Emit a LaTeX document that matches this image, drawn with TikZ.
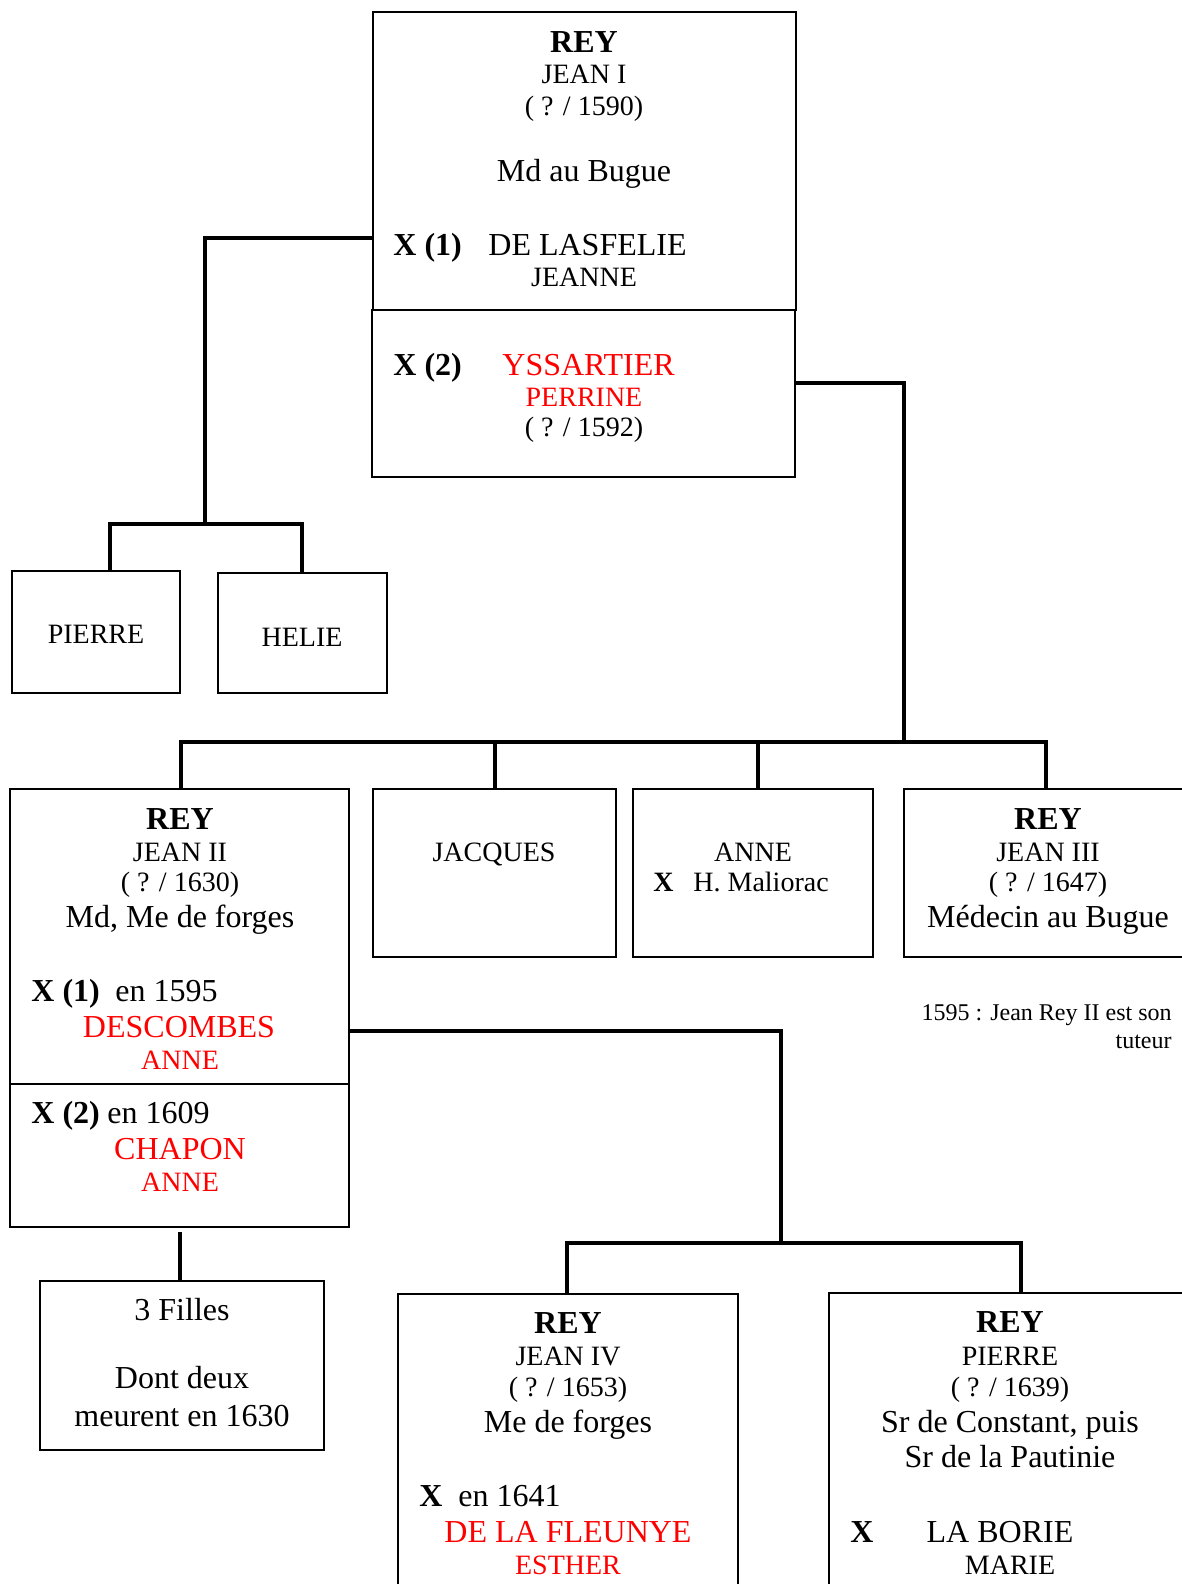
\documentclass[tikz,border=0pt]{standalone}
\usepackage{fontspec}
\setmainfont{Liberation Serif}
\usetikzlibrary{positioning}
\usetikzlibrary{fit}
\tikzset{boite/.style={draw=black, line width=0.6pt, inner sep=0pt},
    lien/.style={line width=2pt},
    txt/.style={inner sep=0pt, anchor=base},
    gros/.style={font=\fontsize{16}{19}\selectfont},
    moyen/.style={font=\fontsize{14}{17}\selectfont},
    petit/.style={font=\fontsize{12}{14}\selectfont},
    nom/.style={font=\bfseries\fontsize{16}{19}\selectfont},
    nomp/.style={font=\bfseries\fontsize{14}{17}\selectfont},
    rouge/.style={text=red}}

\begin{document}
\begin{tikzpicture}[x=0.5pt, y=-0.5pt]
    \useasboundingbox (0,0) rectangle (1182,1584);

    \node[boite, fit={(373,12) (796,310)}] (topA) {};
    \node[boite, fit={(372,310) (795,477)}] (topB) {};
    \node[boite, fit={(12,571) (180,693)}] (pierre1) {};
    \node[boite, fit={(218,573) (387,693)}] (helie) {};
    \node[boite, fit={(10,789) (349,1084)}] (jean2A) {};
    \node[boite, fit={(10,1084) (349,1227)}] (jean2B) {};
    \node[boite, fit={(373,789) (616,957)}] (jacques) {};
    \node[boite, fit={(633,789) (873,957)}] (anne) {};
    \node[boite, fit={(904,789) (1200,957)}] (jean3) {};
    \node[boite, fit={(40,1281) (324,1450)}] (filles) {};
    \node[boite, fit={(398,1294) (738,1610)}] (jean4) {};
    \node[boite, fit={(829,1293) (1200,1610)}] (pierre2) {};

    \coordinate (k1) at (205,238);
    \coordinate (k2) at (205,524);
    \coordinate (b1g) at (110,524);
    \coordinate (b1d) at (302,524);
    \coordinate (k3) at (904,383);
    \coordinate (k4) at (904,742);
    \coordinate (b2g) at (181,742);
    \coordinate (b2d) at (1046,742);
    \coordinate (b2a) at (758,742);
    \coordinate (k5) at (781,1031);
    \coordinate (k6) at (781,1243);
    \coordinate (b3g) at (567,1243);
    \coordinate (b3d) at (1021,1243);
    \coordinate (k7) at (180,1232);

    \draw[lien] (topA.west |- k1) -- (k1) -- (k2);
    \draw[lien] (b1g |- pierre1.north) -- (b1g) -- (b1d) -- (b1d |- helie.north);
    \draw[lien] (topB.east |- k3) -- (k3) -- (k4);
    \draw[lien] (b2g |- jean2A.north) -- (b2g) -- (b2d) -- (b2d |- jean3.north);
    \draw[lien] (jacques.north) -- (jacques.north |- b2g);
    \draw[lien] (b2a |- anne.north) -- (b2a);
    \draw[lien] (jean2A.east |- k5) -- (k5) -- (k6);
    \draw[lien] (b3g |- jean4.north) -- (b3g) -- (b3d) -- (b3d |- pierre2.north);
    \draw[lien] (k7) -- (k7 |- filles.north);

    \node[txt, nom] (rey1) at (584,53) {REY};
    \node[txt, moyen] (prenom1) at (584,84) {JEAN I};
    \node[txt, moyen] (dates1) at (584,116) {( ? / 1590)};
    \node[txt, gros] (metier1) at (584,181) {Md au Bugue};
    \node[txt, nom, anchor=base west] (x11) at (393,255) {X (1)};
    \node[txt, gros, anchor=base west] (epouse11) at (488,255) {DE LASFELIE};
    \node[txt, moyen] (prenom11) at (584,286) {JEANNE};
    \node[txt, nom, anchor=base west] (x12) at (393,375) {X (2)};
    \node[txt, gros, rouge, anchor=base west] (epouse12) at (502,375) {YSSARTIER};
    \node[txt, moyen, rouge] (prenom12) at (584,406) {PERRINE};
    \node[txt, moyen] (dates12) at (584,436) {( ? / 1592)};

    \node[txt, moyen] (npierre1) at (96,643) {PIERRE};
    \node[txt, moyen] (nhelie) at (302,646) {HELIE};

    \node[txt, nom] (rey2) at (180,829) {REY};
    \node[txt, moyen] (prenom2) at (180,861) {JEAN II};
    \node[txt, moyen] (dates2) at (180,891) {( ? / 1630)};
    \node[txt, gros] (metier2) at (180,927) {Md, Me de forges};
    \node[txt, nom, anchor=base west] (x21) at (31,1001) {X (1)};
    \node[txt, gros, anchor=base west] (en21) at (115,1001) {en 1595};
    \node[txt, gros, rouge] (epouse21) at (179,1037) {DESCOMBES};
    \node[txt, moyen, rouge] (prenom21) at (180,1069) {ANNE};
    \node[txt, nom, anchor=base west] (x22) at (31,1123) {X (2)};
    \node[txt, gros, anchor=base west] (en22) at (107,1123) {en 1609};
    \node[txt, gros, rouge] (epouse22) at (180,1159) {CHAPON};
    \node[txt, moyen, rouge] (prenom22) at (180,1191) {ANNE};

    \node[txt, moyen] (njacques) at (494,861) {JACQUES};
    \node[txt, moyen] (nanne) at (753,861) {ANNE};
    \node[txt, nomp, anchor=base west] (xanne) at (653,891) {X};
    \node[txt, moyen, anchor=base west] (mari) at (693,891) {H. Maliorac};

    \node[txt, nom] (rey3) at (1048,829) {REY};
    \node[txt, moyen] (prenom3) at (1048,861) {JEAN III};
    \node[txt, moyen] (dates3) at (1048,891) {( ? / 1647)};
    \node[txt, gros] (metier3) at (1048,927) {Médecin au Bugue};
    \node[txt, petit, anchor=base east] (note1) at (1172,1020) {1595 : Jean Rey II est son};
    \node[txt, petit, anchor=base east] (note2) at (1172,1048) {tuteur};

    \node[txt, gros] (filles1) at (182,1320) {3 Filles};
    \node[txt, gros] (filles2) at (182,1388) {Dont deux};
    \node[txt, gros] (filles3) at (182,1426) {meurent en 1630};

    \node[txt, nom] (rey4) at (568,1333) {REY};
    \node[txt, moyen] (prenom4) at (568,1365) {JEAN IV};
    \node[txt, moyen] (dates4) at (568,1396) {( ? / 1653)};
    \node[txt, gros] (metier4) at (568,1432) {Me de forges};
    \node[txt, nom, anchor=base west] (x4) at (419,1506) {X};
    \node[txt, gros, anchor=base west] (en4) at (458,1506) {en 1641};
    \node[txt, gros, rouge] (epouse4) at (568,1542) {DE LA FLEUNYE};
    \node[txt, moyen, rouge] (prenom41) at (568,1574) {ESTHER};

    \node[txt, nom] (rey5) at (1010,1332) {REY};
    \node[txt, moyen] (prenom5) at (1010,1365) {PIERRE};
    \node[txt, moyen] (dates5) at (1010,1396) {( ? / 1639)};
    \node[txt, gros] (titre5a) at (1010,1432) {Sr de Constant, puis};
    \node[txt, gros] (titre5b) at (1010,1467) {Sr de la Pautinie};
    \node[txt, nom, anchor=base west] (x5) at (850,1542) {X};
    \node[txt, gros] (epouse5) at (1000,1542) {LA BORIE};
    \node[txt, moyen] (prenom51) at (1010,1574) {MARIE};

\end{tikzpicture}
\end{document}
